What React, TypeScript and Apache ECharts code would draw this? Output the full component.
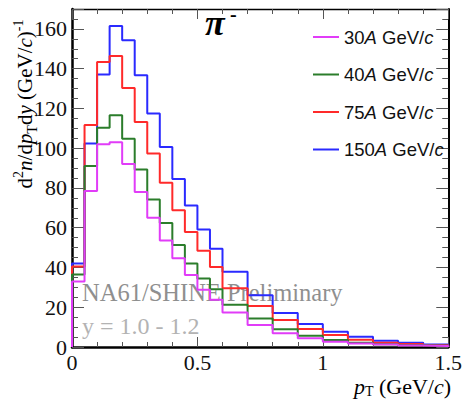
import React, { useEffect, useRef } from 'react';
import * as echarts from 'echarts';

// Bin edges (pT, GeV/c)
const binEdges = [0, 0.05, 0.1, 0.15, 0.2, 0.25, 0.3, 0.35, 0.4, 0.45, 0.5, 0.55, 0.6, 0.7, 0.8, 0.9, 1.0, 1.1, 1.2, 1.3, 1.4, 1.5];

const seriesNames = ['30A GeV/c', '40A GeV/c', '75A GeV/c', '150A GeV/c'];
const seriesColors = ['#e13cf8', '#2b7d2b', '#ff2a2a', '#2a2aff'];

const values30 = [33, 78.5, 102, 103, 92, 78, 65, 53.6, 44.6, 36.2, 28.8, 23.8, 17.4, 11.1, 6.9, 4.4, 2.7, 1.8, 1.2, 0.8, 0.5];
const values40 = [36.5, 91, 110.3, 116.5, 104.8, 89.3, 74.2, 62.4, 51.3, 42, 34.5, 29, 21.3, 14.3, 8.9, 5.7, 3.5, 2.2, 1.4, 0.9, 0.6];
const values75 = [40.5, 111.6, 143.4, 146.4, 130.3, 113.2, 97.3, 82.6, 68.8, 57.9, 48.4, 40.2, 29.5, 20.6, 13.6, 9, 6, 3.6, 2.2, 1.5, 0.9];
const values150 = [42, 102.4, 137, 161.5, 154.3, 136.7, 117.4, 100.6, 84.5, 71.2, 59.1, 49.4, 37.8, 26, 17.1, 11.6, 7.7, 5.2, 3.2, 2.2, 1.3];

const allValues = [values30, values40, values75, values150];

const xMin = 0;
const xMax = 1.5;
const xInterval = 0.5;
const yMin = 0;
const yMax = 170;
const yInterval = 20;

function stepPoints(vals: number[]): number[][] {
  const pts: number[][] = [[binEdges[0], 0]];
  vals.forEach((v, i) => {
    pts.push([binEdges[i], v]);
    pts.push([binEdges[i + 1], v]);
  });
  pts.push([binEdges[binEdges.length - 1], 0]);
  return pts;
}

const SERIF = '"Liberation Serif", "DejaVu Serif", serif';
const SANS = '"Liberation Sans", Arial, sans-serif';

export default function App() {
  const ref = useRef<HTMLDivElement>(null);

  useEffect(() => {
    document.body.style.margin = '0';
    if (!ref.current) return;
    const chart = echarts.init(ref.current, undefined, { renderer: 'svg' });

    const tickStyle = { color: '#555', width: 1 };

    // draw order: 150, 75, 40, 30 (30 on top)
    const order = [3, 2, 1, 0];
    const series = order.map((k) => ({
      name: seriesNames[k],
      type: 'line',
      data: stepPoints(allValues[k]),
      showSymbol: false,
      symbol: 'none',
      color: seriesColors[k],
      lineStyle: { color: seriesColors[k], width: 2 },
      z: 3 + (3 - k),
    }));

    const option: any = {
      animation: false,
      grid: { left: 72, top: 9, right: 14, bottom: 54, containLabel: false },
      legend: {
        data: seriesNames,
        orient: 'vertical',
        left: 308,
        top: 22,
        icon: 'rect',
        itemWidth: 26,
        itemHeight: 2,
        itemGap: 17.5,
        textStyle: {
          fontFamily: SANS,
          fontSize: 18.5,
          color: '#111',
          lineHeight: 20,
          rich: {
            t: { fontFamily: SANS, fontSize: 18.5, color: '#111', lineHeight: 20 },
            i: { fontFamily: SANS, fontSize: 18.5, color: '#111', lineHeight: 20, fontStyle: 'italic' },
          },
        },
        formatter: (name: string) => {
          const num = name.split('A')[0];
          return `{t|${num}}{i|A}{t| GeV/}{i|c}`;
        },
      },
      xAxis: [
        {
          type: 'value',
          min: xMin,
          max: xMax,
          interval: xInterval,
          position: 'bottom',
          axisLine: { show: true, onZero: false, lineStyle: { color: '#000', width: 2.5 } },
          axisTick: { show: true, inside: true, length: 10, lineStyle: tickStyle },
          minorTick: { show: true, splitNumber: 5, length: 5, lineStyle: tickStyle },
          splitLine: { show: false },
          axisLabel: {
            fontFamily: SERIF,
            fontSize: 22,
            color: '#111',
            margin: 4,
            formatter: (v: number) => String(v),
          },
        },
        {
          type: 'value',
          min: xMin,
          max: xMax,
          interval: xInterval,
          position: 'top',
          axisLine: { show: true, onZero: false, lineStyle: { color: '#000', width: 1.3 } },
          axisTick: { show: true, inside: true, length: 10, lineStyle: tickStyle },
          minorTick: { show: true, splitNumber: 5, length: 5, lineStyle: tickStyle },
          splitLine: { show: false },
          axisLabel: { show: false },
        },
      ],
      yAxis: [
        {
          type: 'value',
          min: yMin,
          max: yMax,
          interval: yInterval,
          position: 'left',
          axisLine: { show: true, onZero: false, lineStyle: { color: '#000', width: 2.5 } },
          axisTick: { show: true, inside: true, length: 12, lineStyle: tickStyle },
          minorTick: { show: true, splitNumber: 4, length: 6, lineStyle: tickStyle },
          splitLine: { show: false },
          axisLabel: {
            fontFamily: SERIF,
            fontSize: 22,
            color: '#111',
            margin: 5,
            showMaxLabel: false,
          },
        },
        {
          type: 'value',
          min: yMin,
          max: yMax,
          interval: yInterval,
          position: 'right',
          axisLine: { show: true, onZero: false, lineStyle: { color: '#000', width: 2 } },
          axisTick: { show: true, inside: true, length: 12, lineStyle: tickStyle },
          minorTick: { show: true, splitNumber: 4, length: 6, lineStyle: tickStyle },
          splitLine: { show: false },
          axisLabel: { show: false },
        },
      ],
      series,
      graphic: [
        {
          type: 'text',
          x: 25,
          y: 104,
          rotation: Math.PI / 2,
          z: 10,
          style: {
            text: '{r|d}{sup|2}{i|n}{r|/d}{i|p}{sub|T}{r|d}{i|y}{r| (GeV/}{i|c}{r|)}{sup|-1}',
            align: 'center',
            verticalAlign: 'middle',
            rich: {
              r: { fontFamily: SERIF, fontSize: 21, color: '#111', lineHeight: 28 },
              i: { fontFamily: SERIF, fontSize: 21, color: '#111', lineHeight: 28, fontStyle: 'italic' },
              sup: { fontFamily: SERIF, fontSize: 14, color: '#111', lineHeight: 14, verticalAlign: 'top' },
              sub: { fontFamily: SERIF, fontSize: 14, color: '#111', lineHeight: 14, verticalAlign: 'bottom' },
            },
          },
        },
        {
          type: 'text',
          x: 451,
          y: 386,
          z: 10,
          style: {
            text: '{i|p}{sub|T}{r| (GeV/}{i|c}{r|)}',
            align: 'right',
            verticalAlign: 'middle',
            rich: {
              r: { fontFamily: SERIF, fontSize: 22, color: '#111', lineHeight: 24 },
              i: { fontFamily: SERIF, fontSize: 22, color: '#111', lineHeight: 24, fontStyle: 'italic' },
              sub: { fontFamily: SERIF, fontSize: 14, color: '#111', lineHeight: 14, verticalAlign: 'bottom' },
            },
          },
        },
        {
          type: 'text',
          x: 205,
          y: 23,
          z: 10,
          style: {
            text: 'π',
            fontFamily: SERIF,
            fontSize: 36,
            fontWeight: 'bold',
            fontStyle: 'italic',
            fill: '#000',
            align: 'left',
            verticalAlign: 'middle',
          },
        },
        {
          type: 'text',
          x: 230,
          y: 14,
          z: 10,
          style: {
            text: '-',
            fontFamily: SERIF,
            fontSize: 20,
            fontWeight: 'bold',
            fill: '#000',
            align: 'left',
            verticalAlign: 'middle',
          },
        },
        {
          type: 'text',
          x: 82,
          y: 292.5,
          z: 0,
          style: {
            text: 'NA61/SHINE Preliminary',
            fontFamily: SERIF,
            fontSize: 24.5,
            fill: '#8f8f8f',
            align: 'left',
            verticalAlign: 'middle',
          },
        },
        {
          type: 'text',
          x: 82,
          y: 325.5,
          z: 0,
          style: {
            text: 'y = 1.0 - 1.2',
            fontFamily: SERIF,
            fontSize: 24,
            fill: '#b3b3b3',
            align: 'left',
            verticalAlign: 'middle',
          },
        },
      ],
    };

    chart.setOption(option);
    return () => {
      chart.dispose();
    };
  }, []);

  return <div ref={ref} style={{ width: 465, height: 401 }} />;
}
